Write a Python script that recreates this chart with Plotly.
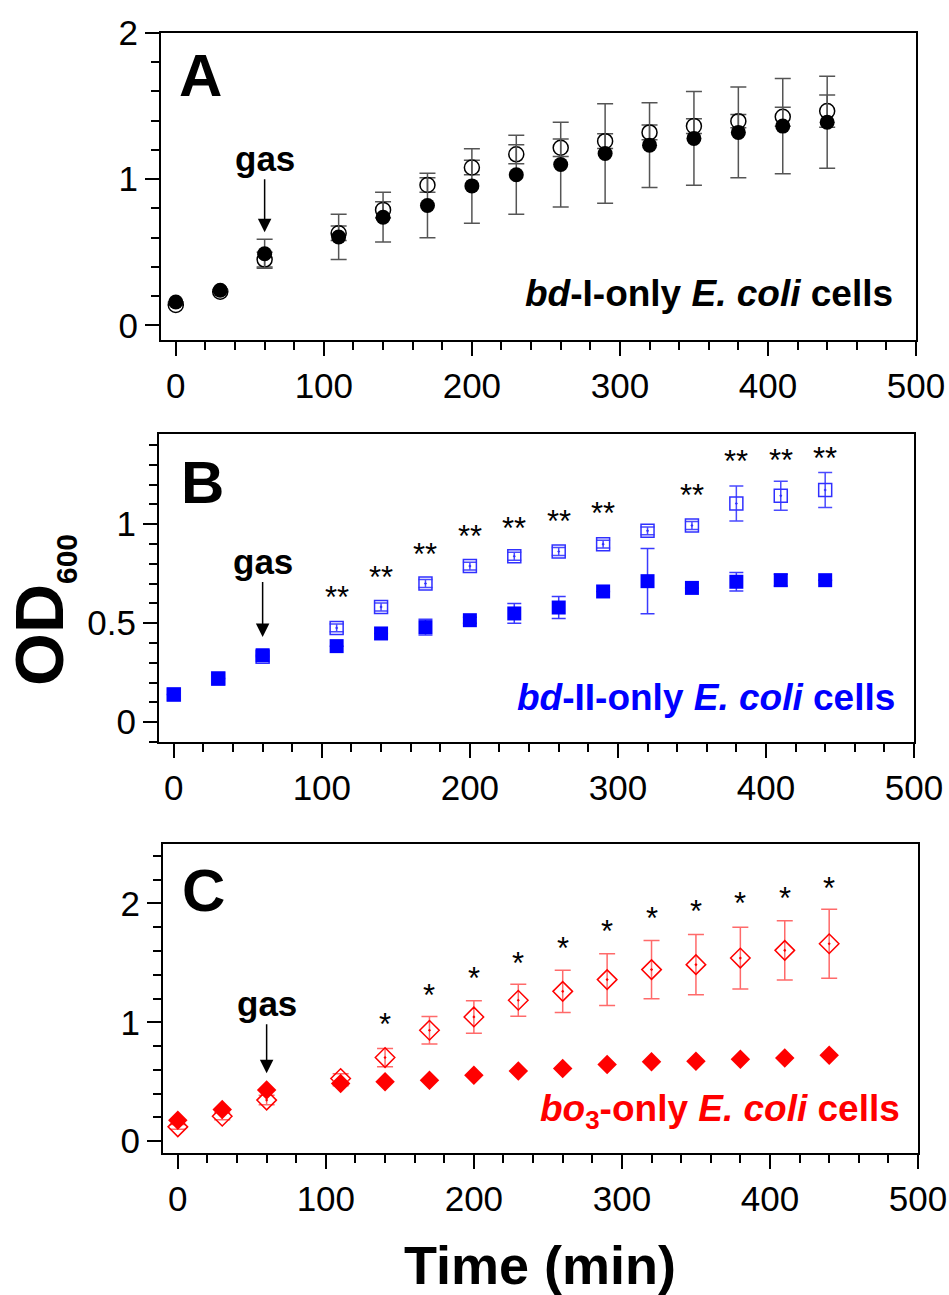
import plotly.graph_objects as go

# ---------------- data ----------------
time = [0, 30, 60, 110, 140, 170, 200, 230, 260, 290, 320, 350, 380, 410, 440]

# Panel A: bd-I-only
A_closed = [0.16, 0.24, 0.49, 0.605, 0.74, 0.82, 0.954, 1.03, 1.10, 1.176, 1.233, 1.279, 1.32, 1.363, 1.39]
A_closed_err = [0, 0, 0.10, 0.155, 0.17, 0.22, 0.255, 0.27, 0.29, 0.34, 0.29, 0.32, 0.31, 0.325, 0.315]
A_open = [0.14, 0.23, 0.45, 0.63, 0.79, 0.96, 1.08, 1.17, 1.215, 1.26, 1.32, 1.363, 1.397, 1.427, 1.466]
A_open_err = [0, 0, 0.05, 0.05, 0.055, 0.05, 0.05, 0.065, 0.06, 0.05, 0.05, 0.05, 0.045, 0.065, 0.11]

# Panel B: bd-II-only
B_closed = [0.14, 0.22, 0.338, 0.384, 0.448, 0.48, 0.515, 0.549, 0.579, 0.66, 0.712, 0.678, 0.709, 0.717, 0.717]
B_closed_err = [0, 0, 0, 0, 0, 0.04, 0.015, 0.05, 0.056, 0, 0.165, 0, 0.047, 0.03, 0]
B_open = [0.14, 0.22, 0.33, 0.476, 0.582, 0.70, 0.788, 0.838, 0.862, 0.899, 0.966, 0.993, 1.104, 1.143, 1.172]
B_open_err = [0, 0, 0, 0.02, 0.02, 0.02, 0.02, 0.02, 0.02, 0.02, 0.02, 0.02, 0.088, 0.073, 0.088]
B_star_time = [110, 140, 170, 200, 230, 260, 290, 350, 380, 410, 440]
B_star_y = [0.658, 0.759, 0.877, 0.966, 1.009, 1.045, 1.084, 1.177, 1.345, 1.354, 1.362]

# Panel C: bo3-only
C_closed = [0.176, 0.266, 0.43, 0.485, 0.50, 0.513, 0.555, 0.591, 0.611, 0.644, 0.667, 0.672, 0.689, 0.70, 0.723]
C_closed_err = [0, 0, 0, 0.02, 0, 0, 0, 0, 0, 0, 0, 0, 0, 0, 0]
C_open = [0.12, 0.21, 0.345, 0.527, 0.703, 0.933, 1.045, 1.185, 1.26, 1.359, 1.443, 1.485, 1.54, 1.605, 1.661]
C_open_err = [0.02, 0.03, 0.04, 0.04, 0.077, 0.115, 0.137, 0.135, 0.178, 0.218, 0.246, 0.253, 0.26, 0.25, 0.29]
C_star_time = [140, 170, 200, 230, 260, 290, 320, 350, 380, 410, 440]
C_star_y = [1.031, 1.277, 1.423, 1.549, 1.675, 1.815, 1.927, 1.983, 2.048, 2.09, 2.18]

gas_time = 60
gas_tip = [0.637, 0.43, 0.571]

x_ticks = [0, 100, 200, 300, 400, 500]

# ---------------- figure ----------------
W, H = 949, 1295
FONT = "Liberation Sans, Arial, sans-serif"
BLUE = "#0000ff"
RED = "#ff0000"

fig = go.Figure()

def eb(arr, color, th=1.5, w=8):
    return dict(type="data", array=arr, visible=True, color=color, thickness=th, width=w)

# Panel A
fig.add_trace(go.Scatter(x=time, y=A_open, mode="markers", xaxis="x", yaxis="y",
                         marker=dict(symbol="circle-open", size=15, color="black", line=dict(width=1.5)),
                         error_y=eb(A_open_err, "#555555")))
fig.add_trace(go.Scatter(x=time, y=A_closed, mode="markers", xaxis="x", yaxis="y",
                         marker=dict(symbol="circle", size=15, color="black"),
                         error_y=eb(A_closed_err, "#555555")))
# Panel B
fig.add_trace(go.Scatter(x=time, y=B_open, mode="markers", xaxis="x2", yaxis="y2",
                         marker=dict(symbol="square-open-dot", size=13, color="#3030ff", line=dict(width=1.5)),
                         error_y=eb(B_open_err, "#4a4aff", w=7)))
fig.add_trace(go.Scatter(x=time, y=B_closed, mode="markers", xaxis="x2", yaxis="y2",
                         marker=dict(symbol="square", size=14, color=BLUE),
                         error_y=eb(B_closed_err, "#3a3aff", w=7)))
# Panel C
fig.add_trace(go.Scatter(x=time, y=C_open, mode="markers", xaxis="x3", yaxis="y3",
                         marker=dict(symbol="diamond-open-dot", size=15, color=RED, line=dict(width=1.5)),
                         error_y=eb(C_open_err, "#ff6a6a")))
fig.add_trace(go.Scatter(x=time, y=C_closed, mode="markers", xaxis="x3", yaxis="y3",
                         marker=dict(symbol="diamond", size=15, color=RED),
                         error_y=eb(C_closed_err, "#ff6a6a")))

# ---------------- axes ----------------
def px_dom_x(a, b):
    return [a / W, b / W]

def px_dom_y(top, bottom):
    return [1 - bottom / H, 1 - top / H]

tickfont = dict(family=FONT, size=35, color="black")

def xax(dom, anchor):
    return dict(domain=dom, anchor=anchor, range=[-10, 500], tickvals=x_ticks, automargin=False,
                showline=True, linewidth=2, linecolor="black", mirror=True,
                ticks="outside", ticklen=14, tickwidth=2, tickcolor="black",
                minor=dict(dtick=20, tick0=0, ticks="outside", ticklen=8, tickwidth=2, tickcolor="black"),
                showgrid=False, zeroline=False, tickfont=tickfont)

def yax(dom, anchor, rng, dtick, mdtick):
    return dict(domain=dom, anchor=anchor, range=rng, dtick=dtick, tick0=0, automargin=False,
                showline=True, linewidth=2, linecolor="black", mirror=True,
                ticks="outside", ticklen=14, tickwidth=2, tickcolor="black",
                minor=dict(dtick=mdtick, tick0=0, ticks="outside", ticklen=8, tickwidth=2, tickcolor="black"),
                showgrid=False, zeroline=False, tickfont=tickfont)

fig.update_layout(
    template="none",
    width=W, height=H, margin=dict(l=0, r=0, t=0, b=0, autoexpand=False),
    paper_bgcolor="white", plot_bgcolor="white", showlegend=False,
    xaxis=xax(px_dom_x(161, 916), "y"),
    yaxis=yax(px_dom_y(33, 340), "x", [-0.1, 2.0], 1, 0.2),
    xaxis2=xax(px_dom_x(159, 914), "y2"),
    yaxis2=yax(px_dom_y(434, 742), "x2", [-0.1, 1.455], 0.5, 0.1),
    xaxis3=xax(px_dom_x(163, 918), "y3"),
    yaxis3=yax(px_dom_y(844, 1153), "x3", [-0.1, 2.5], 1, 0.2),
)

ann = []
# panel letters
for letter, (px, py) in zip("ABC", [(200, 76), (202, 483), (203, 890)]):
    ann.append(dict(text=f"<b>{letter}</b>", x=px / W, y=1 - py / H, xref="paper", yref="paper",
                    showarrow=False, xanchor="center", yanchor="middle",
                    font=dict(family=FONT, size=60, color="black")))

axes = [("x", "y"), ("x2", "y2"), ("x3", "y3")]
# gas labels with arrows (arrow tip at data point, text offset above)
for (xr, yr), tip, ay in zip(axes, gas_tip, [-74, -76, -70]):
    ann.append(dict(text="<b>gas</b>", x=gas_time, y=tip, xref=xr, yref=yr, showarrow=True,
                    ax=0, ay=ay, arrowhead=2, arrowsize=1.8, arrowwidth=1.5, arrowcolor="black",
                    standoff=0, startstandoff=0,
                    font=dict(family=FONT, size=35, color="black")))

# stars
for t, y in zip(B_star_time, B_star_y):
    ann.append(dict(text="**", x=t, y=y, xref="x2", yref="y2", showarrow=False, yshift=-6,
                    xanchor="center", yanchor="middle", font=dict(family=FONT, size=31, color="black")))
for t, y in zip(C_star_time, C_star_y):
    ann.append(dict(text="*", x=t, y=y, xref="x3", yref="y3", showarrow=False, yshift=-6,
                    xanchor="center", yanchor="middle", font=dict(family=FONT, size=31, color="black")))

# strain labels
ann.append(dict(text="<b><i>bd</i>-I-only <i>E. coli</i> cells</b>", x=486, y=0.22, xref="x", yref="y",
                showarrow=False, xanchor="right", yanchor="middle",
                font=dict(family=FONT, size=37, color="black")))
ann.append(dict(text="<b><i>bd</i>-II-only <i>E. coli</i> cells</b>", x=488.5, y=0.126, xref="x2", yref="y2",
                showarrow=False, xanchor="right", yanchor="middle",
                font=dict(family=FONT, size=37, color=BLUE)))
ann.append(dict(text="<b><i>bo</i><sub>3</sub>-only <i>E. coli</i> cells</b>", x=489, y=0.25, xref="x3", yref="y3",
                showarrow=False, xanchor="right", yanchor="middle",
                font=dict(family=FONT, size=37, color=RED)))

# axis titles
ann.append(dict(text="<b>Time (min)</b>", x=540 / W, y=1 - 1265 / H, xref="paper", yref="paper",
                showarrow=False, xanchor="center", yanchor="middle",
                font=dict(family=FONT, size=54, color="black")))
ann.append(dict(text="<b>OD<sub><span style='font-size:30px'>600</span></sub></b>", x=42 / W, y=1 - 610 / H,
                xref="paper", yref="paper", textangle=-90,
                showarrow=False, xanchor="center", yanchor="middle",
                font=dict(family=FONT, size=68, color="black")))

fig.update_layout(annotations=ann)
fig.write_html("out.html", config={"displayModeBar": False},
               post_script="document.body.style.margin='0px';")
